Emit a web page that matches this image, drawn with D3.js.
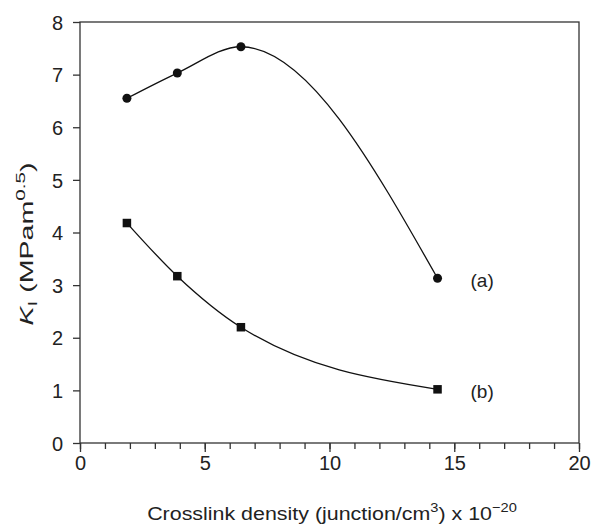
<!DOCTYPE html>
<html>
<head>
<meta charset="utf-8">
<script src="https://cdn.jsdelivr.net/npm/d3@7"></script>
<style>
  body { margin: 0; background: #fff; }
  text { font-family: "Liberation Sans", Arial, sans-serif; fill: #222; }
</style>
</head>
<body>
<div id="chart"></div>
<script>
// crosslink density (x 10^-20) and K_I values
const density = [1.88, 3.9, 6.45, 14.33]
const seriesA = [6.55, 7.03, 7.53, 3.13]
const seriesB = [4.18, 3.17, 2.2, 1.02]
const seriesNames = ["(a)", "(b)"]
const xTicks = [0, 5, 10, 15, 20]
const yTicks = [0, 1, 2, 3, 4, 5, 6, 7, 8]

const W = 592, H = 525
const margin = {top: 22, right: 13, bottom: 82, left: 80}
const width = W - margin.left - margin.right
const height = H - margin.top - margin.bottom

const svg = d3.select("#chart").append("svg")
    .attr("width", W)
    .attr("height", H)

const g = svg.append("g")
    .attr("transform", `translate(${margin.left},${margin.top})`)

const x = d3.scaleLinear().domain([0, 20]).range([0, width])
const y = d3.scaleLinear().domain([0, 8]).range([height, 0])

// frame
g.append("rect")
    .attr("width", width).attr("height", height)
    .attr("fill", "none").attr("stroke", "#333").attr("stroke-width", 1.3)

// x axis: minor ticks every 1, labels every 5
const xMinor = g.append("g")
    .attr("transform", `translate(0,${height})`)
    .call(d3.axisBottom(x).tickValues(d3.range(0, 21, 1)).tickSize(6).tickFormat(""))
xMinor.select(".domain").remove()
xMinor.selectAll("line").attr("stroke", "#333").attr("stroke-width", 1.3)

const xAxis = g.append("g")
    .attr("transform", `translate(0,${height})`)
    .call(d3.axisBottom(x).tickValues(xTicks).tickSize(9).tickPadding(4))
xAxis.select(".domain").remove()
xAxis.selectAll("line").attr("stroke", "#333").attr("stroke-width", 1.3)
xAxis.selectAll("text").attr("font-size", 20).style("font-family", "Liberation Sans, Arial, sans-serif").style("fill", "#222")

const yAxis = g.append("g")
    .call(d3.axisLeft(y).tickValues(yTicks).tickSize(7).tickPadding(10))
yAxis.select(".domain").remove()
yAxis.selectAll("line").attr("stroke", "#333").attr("stroke-width", 1.3)
yAxis.selectAll("text").attr("font-size", 20).attr("dy", "0.36em").style("font-family", "Liberation Sans, Arial, sans-serif").style("fill", "#222")

// curves
const line = d3.line()
    .curve(d3.curveMonotoneX)
    .x((d, i) => x(density[i]))
    .y(d => y(d))

g.append("path").datum(seriesA)
    .attr("d", line)
    .attr("fill", "none").attr("stroke", "#111").attr("stroke-width", 1.3)

g.append("path").datum(seriesB)
    .attr("d", line)
    .attr("fill", "none").attr("stroke", "#111").attr("stroke-width", 1.3)

g.selectAll(".ptA").data(seriesA).join("circle")
    .attr("class", "ptA")
    .attr("cx", (d, i) => x(density[i]))
    .attr("cy", d => y(d))
    .attr("r", 4.5)
    .attr("fill", "#111")

const sq = 8.5
g.selectAll(".ptB").data(seriesB).join("rect")
    .attr("class", "ptB")
    .attr("x", (d, i) => x(density[i]) - sq / 2)
    .attr("y", d => y(d) - sq / 2)
    .attr("width", sq).attr("height", sq)
    .attr("fill", "#111")

// series labels
const last = density.length - 1
g.selectAll(".serLab").data([seriesA[last], seriesB[last]]).join("text")
    .attr("class", "serLab")
    .attr("x", x(density[last]) + 33)
    .attr("y", d => y(d) + 2)
    .attr("dy", "0.35em").attr("font-size", 19)
    .text((d, i) => seriesNames[i])

// stretch a label along its own direction to the wanted length
function fitLabel(sel, target, pre) {
    const w = sel.node().getBBox().width
    sel.attr("transform", `${pre} scale(${target / w},1)`)
}

// x label
const xl = svg.append("text")
    .attr("text-anchor", "middle").attr("font-size", 19)
xl.append("tspan").text("Crosslink density (junction/cm")
xl.append("tspan").attr("font-size", 13).attr("dy", -8).text("3")
xl.append("tspan").attr("dy", 8).text(") x 10")
xl.append("tspan").attr("font-size", 13).attr("dy", -8).text("\u221220")
fitLabel(xl, 370, "translate(332,520)")

// y label
const yl = svg.append("text")
    .attr("text-anchor", "middle").attr("font-size", 18)
yl.append("tspan").attr("font-style", "italic").text("K")
yl.append("tspan").attr("font-size", 13).attr("dy", 4).text("I")
yl.append("tspan").attr("dy", -4).text(" (MPam")
yl.append("tspan").attr("font-size", 13).attr("dy", -8).text("0.5")
yl.append("tspan").attr("dy", 8).text(")")
fitLabel(yl, 163, "translate(33,244) rotate(-90)")
</script>
</body>
</html>
